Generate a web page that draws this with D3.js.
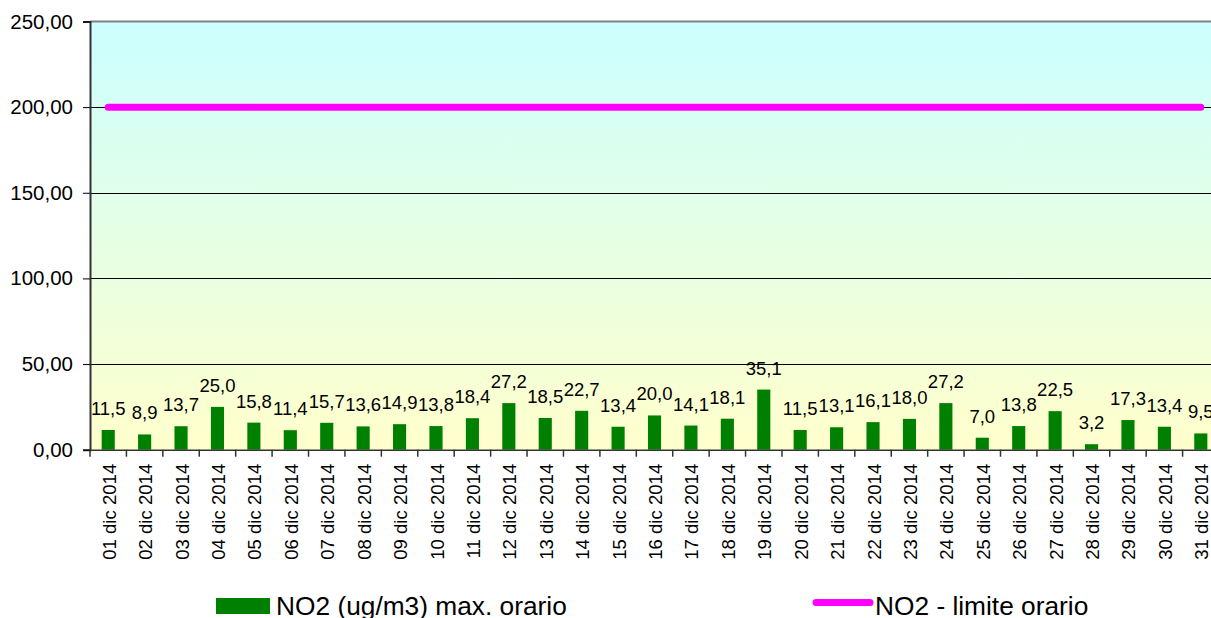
<!DOCTYPE html>
<html lang="it">
  <head>
    <meta charset="UTF-8" />
    <script src="https://d3js.org/d3.v7.min.js"></script>
    <title>NO2 dicembre 2014</title>
    <style type="text/css">
      body { margin: 0; background: #fff; }
      text { font-family: 'Liberation Sans', Arial, sans-serif; fill: #000; }
    </style>
  </head>
  <body>
    <svg width="1211" height="618"></svg>
  </body>
  <script type="text/javascript">
    // data
    const days = [
      '01 dic 2014', '02 dic 2014', '03 dic 2014', '04 dic 2014', '05 dic 2014', '06 dic 2014',
      '07 dic 2014', '08 dic 2014', '09 dic 2014', '10 dic 2014', '11 dic 2014', '12 dic 2014',
      '13 dic 2014', '14 dic 2014', '15 dic 2014', '16 dic 2014', '17 dic 2014', '18 dic 2014',
      '19 dic 2014', '20 dic 2014', '21 dic 2014', '22 dic 2014', '23 dic 2014', '24 dic 2014',
      '25 dic 2014', '26 dic 2014', '27 dic 2014', '28 dic 2014', '29 dic 2014', '30 dic 2014',
      '31 dic 2014'
    ];
    const no2Max = [
      11.5, 8.9, 13.7, 25.0, 15.8, 11.4, 15.7, 13.6, 14.9, 13.8, 18.4, 27.2, 18.5, 22.7, 13.4, 20.0,
      14.1, 18.1, 35.1, 11.5, 13.1, 16.1, 18.0, 27.2, 7.0, 13.8, 22.5, 3.2, 17.3, 13.4, 9.5
    ];
    const no2Limit = days.map(() => 200);
    const yTicks = [0, 50, 100, 150, 200, 250];
    const seriesNames = ['NO2 (ug/m3) max. orario', 'NO2 - limite orario'];

    (() => {
      const svg = d3.select('svg');
      const plotL = 90, plotR = 90 + 31 * 36.42, plotT = 21.5, plotB = 449.7;

      const x = d3.scaleBand().domain(days).range([plotL, plotR]).paddingInner(0.64).paddingOuter(0.32);
      const xStep = d3.scaleBand().domain(days).range([plotL, plotR]);
      const y = d3.scaleLinear().domain([0, 250]).range([plotB, plotT]);
      const fmt = (v, n) => v.toFixed(n).replace('.', ',');

      // background gradient
      const grad = svg.append('defs').append('linearGradient')
        .attr('id', 'bg').attr('x1', 0).attr('y1', 0).attr('x2', 0).attr('y2', 1);
      grad.append('stop').attr('offset', 0).attr('stop-color', '#ccffff');
      grad.append('stop').attr('offset', 1).attr('stop-color', '#ffffcc');

      svg.append('rect')
        .attr('x', plotL).attr('y', plotT)
        .attr('width', plotR - plotL).attr('height', plotB - plotT)
        .attr('fill', 'url(#bg)');

      // grid lines
      svg.append('g').selectAll('line')
        .data(yTicks.filter((d) => d > 0 && d < 250))
        .join('line')
        .attr('x1', plotL).attr('x2', plotR)
        .attr('y1', (d) => Math.round(y(d)) + 0.5).attr('y2', (d) => Math.round(y(d)) + 0.5)
        .attr('stroke', '#000').attr('stroke-width', 1);

      // top border
      svg.append('line')
        .attr('x1', plotL).attr('x2', plotR)
        .attr('y1', plotT).attr('y2', plotT)
        .attr('stroke', '#808080').attr('stroke-width', 2);

      // bars
      svg.append('g').selectAll('rect')
        .data(no2Max)
        .join('rect')
        .attr('x', (d, i) => x(days[i]))
        .attr('y', (d) => y(d))
        .attr('width', x.bandwidth())
        .attr('height', (d) => y(0) - y(d))
        .attr('fill', '#008000');

      // value labels
      svg.append('g').selectAll('text')
        .data(no2Max)
        .join('text')
        .attr('x', (d, i) => x(days[i]) + x.bandwidth() / 2)
        .attr('y', (d) => y(d) - 15)
        .attr('text-anchor', 'middle')
        .attr('font-size', '18.5px')
        .text((d) => fmt(d, 1));

      // limit line
      const line = d3.line()
        .x((d, i) => x(days[i]) + x.bandwidth() / 2)
        .y((d) => y(d));
      svg.append('path')
        .datum(no2Limit)
        .attr('d', line)
        .attr('fill', 'none')
        .attr('stroke', '#ff00ff')
        .attr('stroke-width', 7)
        .attr('stroke-linecap', 'round');

      // y axis
      const yAxis = svg.append('g')
        .attr('transform', `translate(${plotL},0)`)
        .call(d3.axisLeft(y).tickValues(yTicks).tickSize(7).tickPadding(10).tickFormat((d) => fmt(d, 2)));
      yAxis.select('.domain').attr('stroke', '#333').attr('stroke-width', 2);
      yAxis.selectAll('.tick line').attr('stroke', '#000');
      yAxis.selectAll('.tick text')
        .attr('font-size', '20.5px')
        .attr('font-family', "'Liberation Sans', Arial, sans-serif")
        .attr('fill', '#000');

      // x axis
      const xAxis = svg.append('g')
        .attr('transform', `translate(0,${plotB})`)
        .call(d3.axisBottom(xStep).tickSize(0).tickFormat(''));
      xAxis.select('.domain').attr('stroke', '#333').attr('stroke-width', 1.5);
      xAxis.selectAll('.tick').remove();

      // category boundary ticks
      svg.append('g').selectAll('line')
        .data(days)
        .join('line')
        .attr('x1', (d) => xStep(d)).attr('x2', (d) => xStep(d))
        .attr('y1', plotB).attr('y2', plotB + 7)
        .attr('stroke', '#333').attr('stroke-width', 1.5);

      // x labels, rotated
      svg.append('g').selectAll('text')
        .data(days)
        .join('text')
        .attr('transform', (d) => `translate(${xStep(d) + xStep.bandwidth() / 2 + 1},${plotB + 14}) rotate(-90)`)
        .attr('text-anchor', 'end')
        .attr('dy', '0.35em')
        .attr('font-size', '18.6px')
        .text((d) => d);

      // legend
      const legend = svg.append('g');
      legend.append('rect')
        .attr('x', 216).attr('y', 598).attr('width', 54).attr('height', 16)
        .attr('fill', '#008000');
      legend.append('text')
        .attr('x', 276).attr('y', 615)
        .attr('font-size', '26.3px')
        .text(seriesNames[0]);
      legend.append('line')
        .attr('x1', 816).attr('x2', 870).attr('y1', 602.5).attr('y2', 602.5)
        .attr('stroke', '#ff00ff').attr('stroke-width', 7).attr('stroke-linecap', 'round');
      legend.append('text')
        .attr('x', 875).attr('y', 615)
        .attr('font-size', '26.3px')
        .text(seriesNames[1]);
    })();
  </script>
</html>
